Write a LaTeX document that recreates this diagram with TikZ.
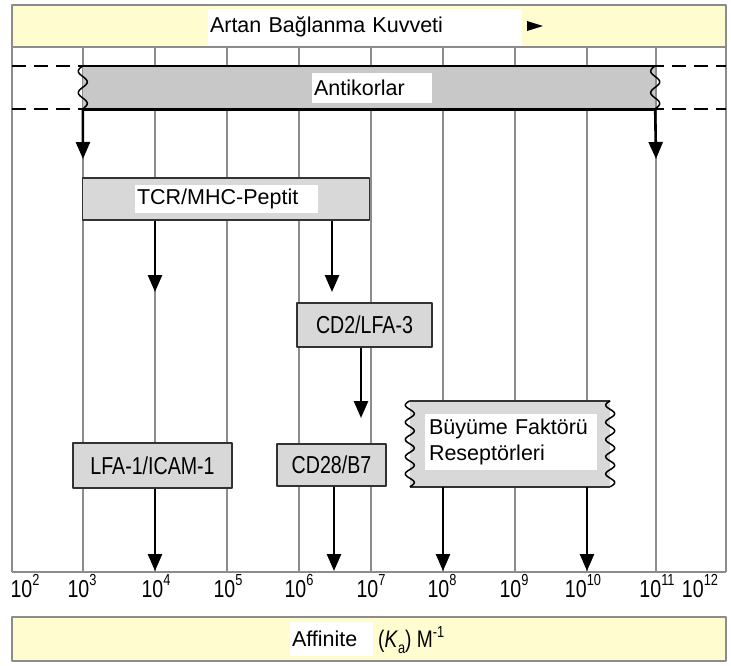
\documentclass[tikz,border=0pt]{standalone}
\usepackage{fontspec}
\setmainfont{Liberation Sans}
\newfontfamily\narrowfont{Liberation Sans}[FakeStretch=0.8]
\usetikzlibrary{arrows.meta}
\definecolor{bannerfill}{RGB}{255,252,208}
\definecolor{gridgray}{RGB}{140,140,140}
\definecolor{boxgray}{RGB}{216,216,216}
\definecolor{antigray}{RGB}{200,200,200}
\definecolor{boxline}{RGB}{50,50,50}
\newcommand{\supnum}[1]{\raisebox{0.45em}{\fontsize{16}{18}\selectfont #1}}
\begin{document}
\begin{tikzpicture}[x=1pt, y=-1pt, line join=round, font=\fontsize{21.5}{26}\selectfont,
	gridline/.style={draw=gridgray, line width=1.5pt},
	banner/.style={draw=gridgray, fill=bannerfill, line width=1.5pt, inner sep=0pt},
	bindbox/.style={draw=boxline, fill=boxgray, line width=1.8pt, inner sep=0pt, font=\narrowfont\fontsize{24.5}{26}\selectfont},
	textbg/.style={fill=white, inner sep=0pt},
	bindarrow/.style={line width=2.6pt, -{Triangle[width=14pt,length=17pt]}},
	wavy/.style={line width=1.5pt, smooth},
	ticklabel/.style={font=\narrowfont\fontsize{24.5}{26}\selectfont, inner sep=0pt, anchor=base}]
	\useasboundingbox (0,0) rectangle (731,665);
	% banners
	\node[banner, minimum width=714pt, minimum height=42pt] (topbar) at (369,26) {};
	\node[textbg, text width=310pt, inner xsep=2pt, minimum height=36pt, align=left] (title) at (365,27) {Artan Bağlanma Kuvveti};
	\fill (527,21)--(527,31)--(543,26)--cycle;
	\node[banner, minimum width=714pt, minimum height=44pt] (affbar) at (369,639) {};
	\node[textbg, text width=79pt, inner xsep=2pt, minimum height=34pt, align=left] (afftext) at (331.5,639) {Affinite};
	\node[anchor=west, inner sep=0pt, font=\narrowfont\fontsize{24}{26}\selectfont] (ka) at (378,640) {(\textit{K}\raisebox{-0.25em}{\fontsize{16}{18}\selectfont a}) M\supnum{-1}};
	% grid and axis
	\foreach \gx in {12,83,155,227,299,371,443,515,587,656,726}
		\draw[gridline] (\gx,47)--(\gx,572);
	\draw[gridline] (12,572)--(726,572);
	\foreach \e/\tx in {2/25,3/82,4/156,5/228,6/299,7/371,8/442,9/514,10/583,11/657,12/700}
		\node[ticklabel] (tick\e) at (\tx,597) {10\supnum{\e}};
	% antibodies
	\draw[line width=1.8pt, dash pattern=on 14pt off 8pt] (12,66)--(726,66);
	\draw[line width=1.8pt, dash pattern=on 14pt off 8pt] (12,109)--(726,109);
	\node[fill=antigray, minimum width=572pt, minimum height=43pt, inner sep=0pt] (anti) at (369,87.5) {};
	\draw[line width=1.8pt] (anti.north west)--(anti.north east);
	\draw[line width=2.6pt] (anti.south west)--(anti.south east);
	\draw[wavy, shift={(anti.north west)}] plot[domain=0:43, samples=41] ({-4.5*sin(\x*16.744)}, \x);
	\draw[wavy, shift={(anti.north east)}] plot[domain=0:43, samples=41] ({-4.5*sin(\x*16.744)}, \x);
	\node[textbg, text width=116pt, inner xsep=2pt, minimum height=30pt, align=left] (antitext) at (372,88) {Antikorlar};
	\coordinate (antiL) at (83,159);
	\coordinate (antiR) at (656,159);
	\draw[bindarrow] (anti.south west)--(antiL);
	\draw[bindarrow] (anti.south east)--(antiR);
	% TCR/MHC
	\node[bindbox, minimum width=287pt, minimum height=42pt] (tcr) at (226,199) {};
	\node[textbg, text width=179pt, inner xsep=2pt, minimum height=28pt, align=left] (tcrtext) at (226.5,199) {TCR/MHC-Peptit};
	\coordinate (tcrA) at (155,292);
	\coordinate (tcrB) at (332,292);
	\draw[bindarrow] (tcr.south -| tcrA)--(tcrA);
	\draw[bindarrow] (tcr.south -| tcrB)--(tcrB);
	% CD2
	\node[bindbox, minimum width=135pt, minimum height=44pt] (cd2) at (364.5,325) {CD2/LFA-3};
	\coordinate (cd2A) at (361,418);
	\draw[bindarrow] (cd2.south -| cd2A)--(cd2A);
	% lower row
	\node[bindbox, minimum width=159pt, minimum height=45pt] (lfa) at (152.5,465.5) {LFA-1/ICAM-1};
	\node[bindbox, minimum width=109pt, minimum height=42pt] (cd28) at (331.5,465) {CD28/B7};
	\node[fill=boxgray, minimum width=200pt, minimum height=86pt, inner sep=0pt] (growth) at (510,444) {};
	\draw[line width=1.8pt, boxline] (growth.north west)--(growth.north east);
	\draw[line width=1.8pt, boxline] (growth.south west)--(growth.south east);
	\draw[wavy, shift={(growth.north west)}] plot[domain=0:86, samples=81] ({-4.5*sin(\x*20.93)}, \x);
	\draw[wavy, shift={(growth.north east)}] plot[domain=0:86, samples=81] ({-4.5*sin(\x*20.93)}, \x);
	\node[textbg, text width=164pt, inner xsep=4pt, inner ysep=5pt, align=left] (growthtext) at (511,442) {Büyüme Faktörü\\Reseptörleri};
	\coordinate (lfaA) at (155,571);
	\coordinate (cd28A) at (334,571);
	\coordinate (growthA) at (443,571);
	\coordinate (growthB) at (587,571);
	\draw[bindarrow] (lfa.south -| lfaA)--(lfaA);
	\draw[bindarrow] (cd28.south -| cd28A)--(cd28A);
	\draw[bindarrow] (growth.south -| growthA)--(growthA);
	\draw[bindarrow] (growth.south -| growthB)--(growthB);
\end{tikzpicture}
\end{document}
